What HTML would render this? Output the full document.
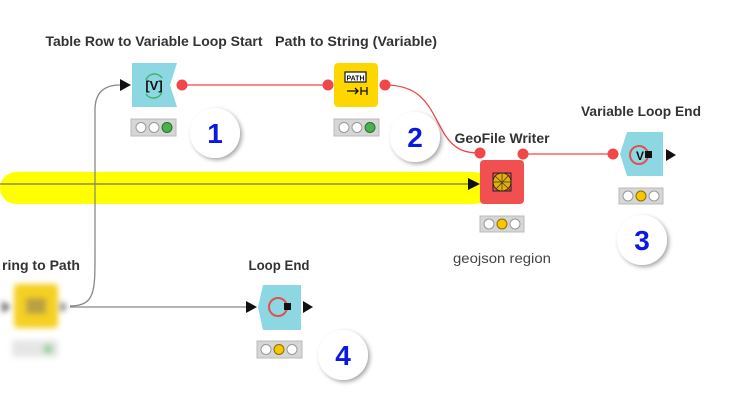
<!DOCTYPE html>
<html><head><meta charset="utf-8"><style>
html,body{margin:0;padding:0;background:#fff;width:737px;height:401px;overflow:hidden}
svg{display:block}
text{font-family:"Liberation Sans",sans-serif}
.lbl{font-weight:bold;font-size:14px;fill:#333}
.num{font-weight:bold;font-size:28px;fill:#0a18e6}
</style></head><body>
<svg width="737" height="401" viewBox="0 0 737 401" xmlns="http://www.w3.org/2000/svg">
<defs>
<filter id="sh" x="-30%" y="-30%" width="170%" height="170%"><feDropShadow dx="2" dy="2" stdDeviation="2" flood-color="#000" flood-opacity="0.35"/></filter>
<filter id="bl"><feGaussianBlur stdDeviation="3"/></filter>
</defs>
<path d="M16,172 L474,172 A16,16 0 0 1 474,204 L16,204 A16,16 0 0 1 16,172 Z" fill="#ffff00"/>
<line x1="0" y1="184" x2="468" y2="184" stroke="#555" stroke-width="1"/>

<path d="M70,306 C96,306 95,290 95,250 L95,110 C95,92 105,85 120,85" fill="none" stroke="#888" stroke-width="1.3"/>
<polygon points="120,79 131,85 120,91" fill="#111"/>
<line x1="70" y1="307" x2="248" y2="307" stroke="#888" stroke-width="1.3"/>
<polygon points="246,301 257,307 246,313" fill="#111"/>
<line x1="182" y1="85" x2="328" y2="85" stroke="#f04848" stroke-width="1.3"/>
<path d="M385,85 C425,85 430,110 445,135 C455,150 465,153 480,153" fill="none" stroke="#f04848" stroke-width="1.3"/>
<line x1="523" y1="154" x2="613" y2="154" stroke="#f04848" stroke-width="1.3"/>

<path d="M132,63 L177,63 L170,85 L177,107 L132,107 Z" fill="#8dd7e3"/>
<text x="154" y="90" text-anchor="middle" font-size="13" font-weight="bold" fill="#111">[V]</text>
<path d="M146,80 A9,9 0 0 1 162,78 M162,92 A9,9 0 0 1 146,94" fill="none" stroke="#3fb36a" stroke-width="1.5"/>
<circle cx="182" cy="85" r="5.5" fill="#f04848"/>
<rect x="131" y="119" width="45" height="17" fill="#d6d6d6" stroke="#bbb"/>
<circle cx="141" cy="127.5" r="5" fill="#fff" stroke="#999"/>
<circle cx="154" cy="127.5" r="5" fill="#fff" stroke="#999"/>
<circle cx="167" cy="127.5" r="5" fill="#4caf50" stroke="#2c6e2f"/>
<text class="lbl" x="154" y="46" text-anchor="middle" textLength="217" lengthAdjust="spacingAndGlyphs">Table Row to Variable Loop Start</text>

<circle cx="328" cy="85" r="5.5" fill="#f04848"/>
<rect x="334" y="63" width="44" height="44" rx="4" fill="#ffd700"/>
<rect x="345" y="72" width="21" height="10" fill="#fff" stroke="#111" stroke-width="1.2"/>
<text x="355.5" y="80.5" text-anchor="middle" font-size="7" font-weight="bold" fill="#111">PATH</text>
<path d="M347,91 L358,91 M355,88 L358,91 L355,94 M361,87 L361,95 M367,87 L367,95 M361,91 L367,91" stroke="#111" stroke-width="1.3" fill="none"/>
<circle cx="385" cy="85" r="5.5" fill="#f04848"/>
<rect x="334" y="119" width="45" height="17" fill="#d6d6d6" stroke="#bbb"/>
<circle cx="344" cy="127.5" r="5" fill="#fff" stroke="#999"/>
<circle cx="357" cy="127.5" r="5" fill="#fff" stroke="#999"/>
<circle cx="370" cy="127.5" r="5" fill="#4caf50" stroke="#2c6e2f"/>
<text class="lbl" x="356" y="46" text-anchor="middle" textLength="162" lengthAdjust="spacingAndGlyphs">Path to String (Variable)</text>

<rect x="480" y="160" width="44" height="44" rx="4" fill="#f25050"/>
<circle cx="502" cy="182" r="9" fill="#e6b000" stroke="#333" stroke-width="1"/>
<rect x="493" y="173" width="18" height="18" fill="none" stroke="#222" stroke-width="1"/>
<path d="M495,176 L510,190 M496,189 L509,175 M502,173 L502,191 M493,182 L511,182" stroke="#333" stroke-width="0.7"/>
<circle cx="480" cy="153" r="5.5" fill="#f04848"/>
<circle cx="523" cy="154" r="5.5" fill="#f04848"/>
<polygon points="468,178 480,184 468,190" fill="#111"/>
<rect x="480" y="216" width="44" height="16" fill="#d6d6d6" stroke="#bbb"/>
<circle cx="489" cy="224" r="5" fill="#fff" stroke="#999"/>
<circle cx="502" cy="224" r="5" fill="#f5c800" stroke="#8a6d00"/>
<circle cx="515" cy="224" r="5" fill="#fff" stroke="#999"/>
<text class="lbl" x="502" y="143" text-anchor="middle" textLength="95" lengthAdjust="spacingAndGlyphs">GeoFile Writer</text>
<text x="502" y="263" text-anchor="middle" font-size="14" fill="#444" textLength="98" lengthAdjust="spacingAndGlyphs">geojson region</text>

<circle cx="613" cy="154" r="5.5" fill="#f04848"/>
<path d="M627,132 L663,132 L663,176 L627,176 L620,154 Z" fill="#8dd7e3"/>
<circle cx="639" cy="155" r="9" fill="none" stroke="#e05050" stroke-width="2"/>
<text x="640" y="160" text-anchor="middle" font-size="12" font-weight="bold" fill="#111">V</text>
<rect x="645" y="151" width="7" height="7" fill="#111"/>
<polygon points="666,149 676,155 666,161" fill="#111"/>
<rect x="619" y="188" width="44" height="16" fill="#d6d6d6" stroke="#bbb"/>
<circle cx="628" cy="196" r="5" fill="#fff" stroke="#999"/>
<circle cx="641" cy="196" r="5" fill="#f5c800" stroke="#8a6d00"/>
<circle cx="654" cy="196" r="5" fill="#fff" stroke="#999"/>
<text class="lbl" x="641" y="116" text-anchor="middle" textLength="120" lengthAdjust="spacingAndGlyphs">Variable Loop End</text>

<g filter="url(#bl)">
<rect x="14" y="284" width="44" height="44" rx="4" fill="#f5d020"/>
<rect x="26" y="298" width="20" height="16" fill="#b9a040"/>
<polygon points="2,301 11,307 2,313" fill="#666"/>
<polygon points="60,301 68,307 60,313" fill="#888"/>
<rect x="12" y="340" width="46" height="17" fill="#e6e6e6"/>
<circle cx="48" cy="349" r="5" fill="#9cd19c"/>
</g>
<text class="lbl" x="2" y="270" textLength="78" lengthAdjust="spacingAndGlyphs">ring to Path</text>

<path d="M263,285 L301,285 L301,330 L263,330 L258,307 Z" fill="#8dd7e3"/>
<circle cx="278" cy="307" r="9" fill="none" stroke="#e05050" stroke-width="2"/>
<rect x="284" y="303" width="7" height="7" fill="#111"/>
<polygon points="303,301 313,307 303,313" fill="#111"/>
<rect x="257" y="341" width="45" height="17" fill="#d6d6d6" stroke="#bbb"/>
<circle cx="266" cy="349.5" r="5" fill="#fff" stroke="#999"/>
<circle cx="279" cy="349.5" r="5" fill="#f5c800" stroke="#8a6d00"/>
<circle cx="292" cy="349.5" r="5" fill="#fff" stroke="#999"/>
<text class="lbl" x="279" y="270" text-anchor="middle" textLength="61" lengthAdjust="spacingAndGlyphs">Loop End</text>

<g filter="url(#sh)" fill="#fff">
<circle cx="215" cy="133" r="25"/>
<circle cx="415" cy="137" r="25"/>
<circle cx="642" cy="240" r="25"/>
<circle cx="343" cy="355" r="25"/>
</g>
<text class="num" x="215" y="143" text-anchor="middle">1</text>
<text class="num" x="415" y="147" text-anchor="middle">2</text>
<text class="num" x="642" y="250" text-anchor="middle">3</text>
<text class="num" x="343" y="365" text-anchor="middle">4</text>
</svg>
</body></html>
